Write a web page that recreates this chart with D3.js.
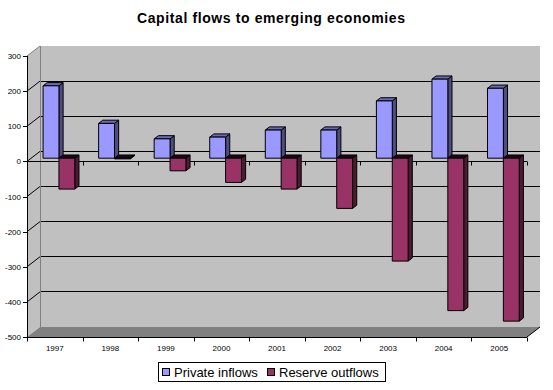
<!DOCTYPE html>
<html><head><meta charset="utf-8">
<script src="https://cdn.jsdelivr.net/npm/d3@7"></script>
<style>body{margin:0;background:#fff}svg{display:block;font-family:"Liberation Sans",Arial,sans-serif}</style>
</head><body>
<script>
const years = ["1997","1998","1999","2000","2001","2002","2003","2004","2005"];
const privateInflows = [206, 99, 55, 60, 80, 80, 163, 225, 199];
const reserveOutflows = [-88, -2, -36, -69, -88, -143, -293, -434, -464];
const seriesNames = ["Private inflows", "Reserve outflows"];
const yTicks = [-500,-400,-300,-200,-100,0,100,200,300];

const W = 553, H = 390;
const svg = d3.select("body").append("svg").attr("width", W).attr("height", H);

const DX = 13, DY = -10;           // full depth offset of the 3D box
const T0 = 0.32, T1 = 0.64;        // bar depth positions
const y = d3.scaleLinear().domain([-500, 300]).range([337, 56]);
const x = d3.scaleBand().domain(years).range([27, 527]).paddingInner(0).paddingOuter(0);
const step = x.step();
const bw = step / 3.5;

const colors = {
  p: {front: "#9999ff", side: "#4d4d80", top: "#6b6bb3"},
  r: {front: "#993366", side: "#4d1a33", top: "#1a0a12"}
};

const x0 = 27, x1 = 527, yTop = y(300), yBot = y(-500);

// back wall
svg.append("rect").attr("x", x0 + DX).attr("y", yTop + DY).attr("width", x1 - x0).attr("height", yBot - yTop).attr("fill", "#c0c0c0");
// left wall
svg.append("polygon").attr("points", [[x0, yTop], [x0 + DX, yTop + DY], [x0 + DX, yBot + DY], [x0, yBot]].join(" "))
  .attr("fill", "#c0c0c0");
// floor
svg.append("polygon").attr("points", [[x0, yBot], [x1, yBot], [x1 + DX, yBot + DY], [x0 + DX, yBot + DY]].join(" "))
  .attr("fill", "#808080");

// gridlines (back wall + left wall)
const inner = yTicks.filter(v => v > -500 && v < 300);
svg.selectAll(".gb").data(inner).join("line")
  .attr("x1", x0 + DX).attr("x2", x1 + DX).attr("y1", d => y(d) + DY).attr("y2", d => y(d) + DY)
  .attr("stroke", "#000").attr("stroke-width", 1).attr("shape-rendering", "crispEdges");
svg.selectAll(".gl").data(inner).join("line")
  .attr("x1", x0).attr("x2", x0 + DX).attr("y1", d => y(d)).attr("y2", d => y(d) + DY)
  .attr("stroke", "#000").attr("stroke-width", 1);
// wall edges (gray)
svg.append("line").attr("x1", x0 + DX + 0.5).attr("x2", x0 + DX + 0.5).attr("y1", yTop + DY).attr("y2", yBot + DY)
  .attr("stroke", "#808080");
svg.append("line").attr("x1", x0).attr("x2", x0 + DX).attr("y1", yTop).attr("y2", yTop + DY).attr("stroke", "#808080");
// floor right edge
svg.append("line").attr("x1", x1).attr("x2", x1 + DX).attr("y1", yBot).attr("y2", yBot + DY).attr("stroke", "#000");

// front zero line with ticks
const y0 = Math.round(y(0)) + 0.5;
svg.append("line").attr("x1", x0).attr("x2", x1).attr("y1", y0).attr("y2", y0).attr("stroke", "#000");
const bounds = years.map(d => x(d)).concat([x1]);
svg.selectAll(".t0").data(bounds.slice(1)).join("line")
  .attr("x1", d => Math.round(d) + 0.5).attr("x2", d => Math.round(d) + 0.5).attr("y1", y0).attr("y2", y0 + 4)
  .attr("stroke", "#000");

// bars
function bar(cx, v, c) {
  const ox0 = T0 * DX, oy0 = T0 * DY, ox1 = T1 * DX, oy1 = T1 * DY;
  const top = y(Math.max(v, 0)), bot = y(Math.min(v, 0));
  const L = cx, R = cx + bw;
  const g = svg.append("g").attr("stroke", "#000").attr("stroke-width", 1).attr("stroke-linejoin", "round");
  g.append("polygon").attr("points", [[R + ox0, top + oy0], [R + ox1, top + oy1], [R + ox1, bot + oy1], [R + ox0, bot + oy0]].join(" "))
    .attr("fill", c.side);
  g.append("polygon").attr("points", [[L + ox0, top + oy0], [R + ox0, top + oy0], [R + ox1, top + oy1], [L + ox1, top + oy1]].join(" "))
    .attr("fill", c.top);
  g.append("rect").attr("x", L + ox0).attr("y", top + oy0).attr("width", bw).attr("height", Math.max(bot - top, 0))
    .attr("fill", c.front);
}
years.forEach((yr, i) => {
  const cc = x(yr) + step / 2;
  bar(cc - bw, privateInflows[i], colors.p);
  bar(cc, reserveOutflows[i], colors.r);
});

// y axis
svg.append("line").attr("x1", x0 + 0.5).attr("x2", x0 + 0.5).attr("y1", yTop).attr("y2", yBot).attr("stroke", "#000");
svg.selectAll(".yt").data(yTicks).join("line")
  .attr("x1", x0 - 4).attr("x2", x0).attr("y1", d => Math.round(y(d)) + 0.5).attr("y2", d => Math.round(y(d)) + 0.5)
  .attr("stroke", "#000");
svg.selectAll(".yl").data(yTicks).join("text")
  .attr("x", 21).attr("y", d => y(d) + 3).attr("text-anchor", "end").attr("font-size", 8).attr("fill", "#000")
  .text(d => d);

// bottom axis
const yb = Math.round(yBot) + 0.5;
svg.append("line").attr("x1", x0).attr("x2", x1).attr("y1", yb).attr("y2", yb).attr("stroke", "#000");
svg.selectAll(".bt").data(bounds).join("line")
  .attr("x1", d => Math.round(d) + 0.5).attr("x2", d => Math.round(d) + 0.5).attr("y1", yb).attr("y2", yb + 4)
  .attr("stroke", "#000");
svg.selectAll(".xl").data(years).join("text")
  .attr("x", d => x(d) + step / 2).attr("y", 351).attr("text-anchor", "middle").attr("font-size", 8).attr("fill", "#000")
  .text(d => d);

// title
svg.append("text").attr("x", 271).attr("y", 23).attr("text-anchor", "middle")
  .attr("font-size", 14).attr("font-weight", "bold").attr("textLength", 268).attr("lengthAdjust", "spacing")
  .text("Capital flows to emerging economies");

// legend
const lg = svg.append("g");
lg.append("rect").attr("x", 158.5).attr("y", 362.5).attr("width", 227).attr("height", 19)
  .attr("fill", "#fff").attr("stroke", "#000");
const legX = [162.5, 267.5];
const legC = [colors.p.front, colors.r.front];
seriesNames.forEach((n, i) => {
  lg.append("rect").attr("x", legX[i]).attr("y", 368.5).attr("width", 7).attr("height", 7)
    .attr("fill", legC[i]).attr("stroke", "#000");
  lg.append("text").attr("x", legX[i] + 11.5).attr("y", 376.5).attr("font-size", 13).attr("fill", "#000").text(n);
});
</script>
</body></html>
